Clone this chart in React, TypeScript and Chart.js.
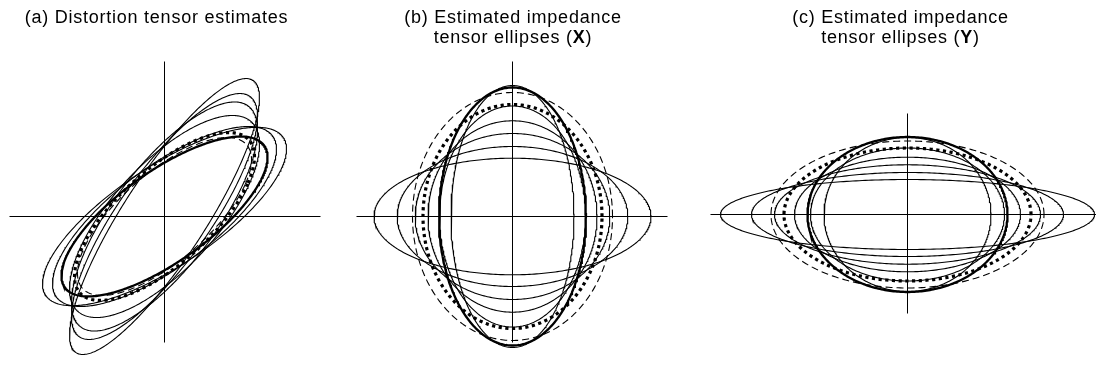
import React, { useEffect, useRef } from "react";
import { Chart, registerables } from "chart.js";

Chart.register(...registerables);

// (a) distortion tensor estimates, symmetric tensors [[xx, xy], [xy, yy]]
const distXX = [77.2, 79.6, 82.8, 87.1, 104.3, 114.3];
const distXY = [55.3, 48.1, 42.4, 38.0, 40.8, 42.7];
const distYY = [126.4, 113.2, 106.4, 93.6, 80.2, 78.3];
const distSolid = [96.4, 36.4, 71.2];
const distDashed = [80.8, 32.3, 72.1];
const distDotted = [83.5, 33.5, 77.0];

// (b) impedance tensor ellipses for X: semi-axes along x and y
const ellXRx = [61.5, 73, 84.5, 97.3, 115.3, 138.5];
const ellXRy = [131, 110.5, 95.7, 83, 70, 58.3];
const ellXSolid = [73.5, 129];
const ellXDashed = [100, 124];
const ellXDotted = [89.5, 112];

// (c) impedance tensor ellipses for Y
const ellYRx = [83.5, 97, 113, 133, 156, 187];
const ellYRy = [77, 66.5, 57.3, 49.7, 42, 35];
const ellYSolid = [100, 77.5];
const ellYDashed = [136.5, 73.5];
const ellYDotted = [123.5, 66.5];

const STEPS = 360;

type Pt = { x: number; y: number };

// Image of the unit circle under the 2x2 tensor [[a, b], [c, d]]
function tensorLoop(a: number, b: number, c: number, d: number): Pt[] {
  const pts: Pt[] = [];
  for (let i = 0; i <= STEPS; i++) {
    const t = (2 * Math.PI * i) / STEPS;
    const ct = Math.cos(t);
    const st = Math.sin(t);
    pts.push({ x: a * ct + b * st, y: c * ct + d * st });
  }
  return pts;
}

type Style = "thin" | "solid" | "dashed" | "dotted" | "axis";

function ds(data: Pt[], style: Style) {
  const base: any = {
    data,
    showLine: true,
    borderColor: "#000",
    backgroundColor: "#000",
    pointRadius: 0,
    pointHoverRadius: 0,
    fill: false,
    tension: 0,
    clip: false,
    borderCapStyle: "butt",
    borderWidth: 1.1,
  };
  if (style === "axis") base.borderWidth = 1;
  if (style === "solid") base.borderWidth = 2.3;
  if (style === "dashed") base.borderDash = [7, 4];
  if (style === "dotted") {
    base.borderWidth = 3.2;
    base.borderDash = [3.2, 3.5];
  }
  return base;
}

function axes(x0: number, x1: number, y0: number, y1: number) {
  return [
    ds([{ x: x0, y: 0 }, { x: x1, y: 0 }], "axis"),
    ds([{ x: 0, y: y0 }, { x: 0, y: y1 }], "axis"),
  ];
}

const panelA = () => [
  ...axes(-155, 156, -126, 155),
  ...distXX.map((_, i) => ds(tensorLoop(distXX[i], distXY[i], distXY[i], distYY[i]), "thin")),
  ds(tensorLoop(distDashed[0], distDashed[1], distDashed[1], distDashed[2]), "dashed"),
  ds(tensorLoop(distDotted[0], distDotted[1], distDotted[1], distDotted[2]), "dotted"),
  ds(tensorLoop(distSolid[0], distSolid[1], distSolid[1], distSolid[2]), "solid"),
];

const panelB = () => [
  ...axes(-156, 155, -126, 155),
  ...ellXRx.map((_, i) => ds(tensorLoop(ellXRx[i], 0, 0, ellXRy[i]), "thin")),
  ds(tensorLoop(ellXDashed[0], 0, 0, ellXDashed[1]), "dashed"),
  ds(tensorLoop(ellXDotted[0], 0, 0, ellXDotted[1]), "dotted"),
  ds(tensorLoop(ellXSolid[0], 0, 0, ellXSolid[1]), "solid"),
];

const panelC = () => [
  ...axes(-197, 190, -99, 101),
  ...ellYRx.map((_, i) => ds(tensorLoop(ellYRx[i], 0, 0, ellYRy[i]), "thin")),
  ds(tensorLoop(ellYDashed[0], 0, 0, ellYDashed[1]), "dashed"),
  ds(tensorLoop(ellYDotted[0], 0, 0, ellYDotted[1]), "dotted"),
  ds(tensorLoop(ellYSolid[0], 0, 0, ellYSolid[1]), "solid"),
];

type PanelProps = {
  left: number;
  width: number;
  cx: number;
  cy: number;
  build: () => any[];
};

function Panel({ left, width, cx, cy, build }: PanelProps) {
  const ref = useRef<HTMLCanvasElement | null>(null);
  const height = 370;
  useEffect(() => {
    if (!ref.current) return;
    const xmin = -(cx - left + 0.5);
    const ymax = cy + 0.5;
    const chart = new Chart(ref.current, {
      type: "scatter",
      data: { datasets: build() },
      options: {
        animation: false,
        responsive: false,
        events: [],
        layout: { padding: 0, autoPadding: false },
        plugins: {
          legend: { display: false },
          tooltip: { enabled: false },
          title: { display: false },
        },
        scales: {
          x: { type: "linear", min: xmin, max: xmin + width, display: false },
          y: { type: "linear", min: ymax - height, max: ymax, display: false },
        },
      },
    } as any);
    return () => chart.destroy();
  }, []);
  return (
    <canvas
      ref={ref}
      width={width}
      height={height}
      style={{ position: "absolute", left, top: 0, width, height }}
    />
  );
}

const titleFont = '"Liberation Sans", Arial, Helvetica, sans-serif';

function Title({ center, children }: { center: number; children: React.ReactNode }) {
  return (
    <div
      style={{
        position: "absolute",
        left: center - 200,
        top: 8,
        width: 400,
        textAlign: "center",
        fontFamily: titleFont,
        fontSize: 18,
        lineHeight: "19.5px",
        letterSpacing: "0.75px",
        color: "#000",
      }}
    >
      {children}
    </div>
  );
}

export default function App() {
  return (
    <div
      style={{
        position: "absolute",
        left: 0,
        top: 0,
        width: 1096,
        height: 370,
        background: "#fff",
        overflow: "hidden",
      }}
    >
      <Panel left={0} width={330} cx={164} cy={216} build={panelA} />
      <Panel left={340} width={340} cx={512} cy={216} build={panelB} />
      <Panel left={690} width={406} cx={907} cy={214} build={panelC} />
      <Title center={156.5}>(a) Distortion tensor estimates</Title>
      <Title center={513}>
        (b) Estimated impedance
        <br />
        tensor ellipses (<b>X</b>)
      </Title>
      <Title center={900.5}>
        (c) Estimated impedance
        <br />
        tensor ellipses (<b>Y</b>)
      </Title>
    </div>
  );
}
